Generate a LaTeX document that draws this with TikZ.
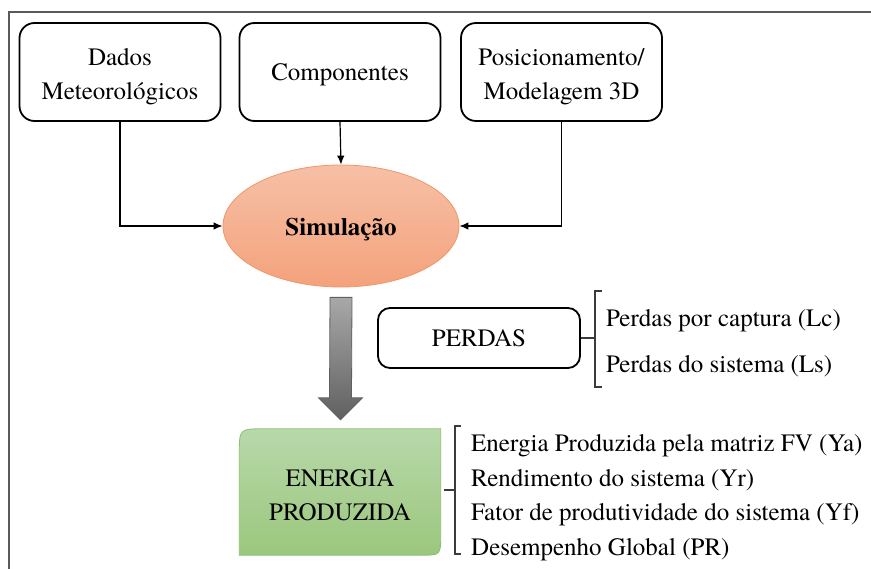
\documentclass[tikz,border=0pt]{standalone}
\usepackage{fontspec}
\setmainfont{texgyretermes}[Extension=.otf, UprightFont=*-regular, BoldFont=*-bold, ItalicFont=*-italic, BoldItalicFont=*-bolditalic]
\usetikzlibrary{shapes.geometric,arrows.meta,calc,backgrounds}
\definecolor{framegray}{RGB}{90,90,90}
\definecolor{simtop}{RGB}{246,192,166}
\definecolor{simbot}{RGB}{244,162,124}
\definecolor{simedge}{RGB}{240,150,105}
\definecolor{entop}{RGB}{184,216,170}
\definecolor{enbot}{RGB}{155,199,125}
\definecolor{enedge}{RGB}{140,192,110}
\definecolor{arrtop}{RGB}{168,168,168}
\definecolor{arrbot}{RGB}{96,96,96}
\definecolor{bracegray}{RGB}{60,60,60}
\begin{document}
\begin{tikzpicture}[x=1pt,y=1pt,
  every node/.style={font=\fontsize{25}{34}\selectfont},
  box/.style={draw, rounded corners=15pt, line width=1.8pt, minimum width=201pt, minimum height=98pt, align=center, inner sep=0pt, text height=61pt, text depth=5pt},
  sim/.style={ellipse, draw=simedge, line width=0.8pt, top color=simtop, bottom color=simbot, minimum width=236pt, minimum height=122pt, inner sep=0pt, text height=25pt, text depth=5pt},
  item/.style={anchor=base west, inner sep=0pt},
  conn/.style={line width=1.2pt, -{Latex[length=9pt,width=7.5pt]}},
  brace/.style={bracegray, line width=1.3pt}]
\useasboundingbox (0,0) rectangle (871,-569);
\draw[framegray, line width=2pt] (9,-569) -- (9,-12.5) -- (871,-12.5);

\node (0) at (120,-72) [box] {Dados\\Meteorológicos};
\node (1) at (340,-72) [box, text height=22pt] {Componentes};
\node (2) at (561.5,-72) [box] {Posicionamento/\\Modelagem 3D};
\node (3) at (341,-226) [sim] {\textbf{Simulação}};
\node (4) at (340,-492) [minimum width=201pt, minimum height=126pt, align=center, inner sep=0pt, text height=56pt, text depth=0pt] {ENERGIA\\PRODUZIDA};
\node (5) at (479,-338) [box, rounded corners=12pt, minimum width=202pt, minimum height=60pt, text height=17pt, text depth=0pt] {PERDAS};

\node (12) at (606,-327) [item] {Perdas por captura (Lc)};
\node (13) at (606,-373) [item] {Perdas do sistema (Ls)};
\node (14) at (471,-452) [item] {Energia Produzida pela matriz FV (Ya)};
\node (15) at (471,-486) [item] {Rendimento do sistema (Yr)};
\node (16) at (471,-520.5) [item] {Fator de produtividade do sistema (Yf)};
\node (17) at (471,-555) [item] {Desempenho Global (PR)};

\begin{scope}[on background layer]
\shade[top color=entop, bottom color=enbot, draw=enedge, line width=0.8pt]
(4.south west) -- ($(4.north west)+(0,-25)$) .. controls (4.north west) .. ($(4.north west)+(25,0)$)
-- (4.north east) -- ($(4.south east)+(0,20)$) .. controls (4.south east) .. ($(4.south east)+(-20,0)$) -- cycle;
\end{scope}

\draw[conn]
(0.south) |- (3.west);
\draw[conn]
(1.south) -- (3.north);
\draw[conn]
(2.south) |- (3.east);

\coordinate (6) at ($(3.south)+(0,-10)$);
\coordinate (7) at ($(4.north)+(0.5,9)$);
\shade[top color=arrtop, bottom color=arrbot, draw=arrbot, line width=0.8pt]
($(6)+(-11,0)$) -- ($(6)+(11,0)$) -- ($(7)+(11,22)$) -- ($(7)+(22,22)$) -- (7)
-- ($(7)+(-22,22)$) -- ($(7)+(-11,22)$) -- cycle;

\coordinate (8) at (595,-291);
\coordinate (9) at (595,-387);
\coordinate (10) at (455,-426);
\coordinate (11) at (455,-554);
\draw[brace]
(5.east) -- (5.east -| 8)
($(8)+(7,0)$) -- (8) -- (9) -- ($(9)+(7,0)$)
($(4.east)+(3,2)$) -- ($(4.east -| 10)+(0,2)$)
($(10)+(6,0)$) -- (10) -- (11) -- ($(11)+(6,0)$);
\end{tikzpicture}
\end{document}
